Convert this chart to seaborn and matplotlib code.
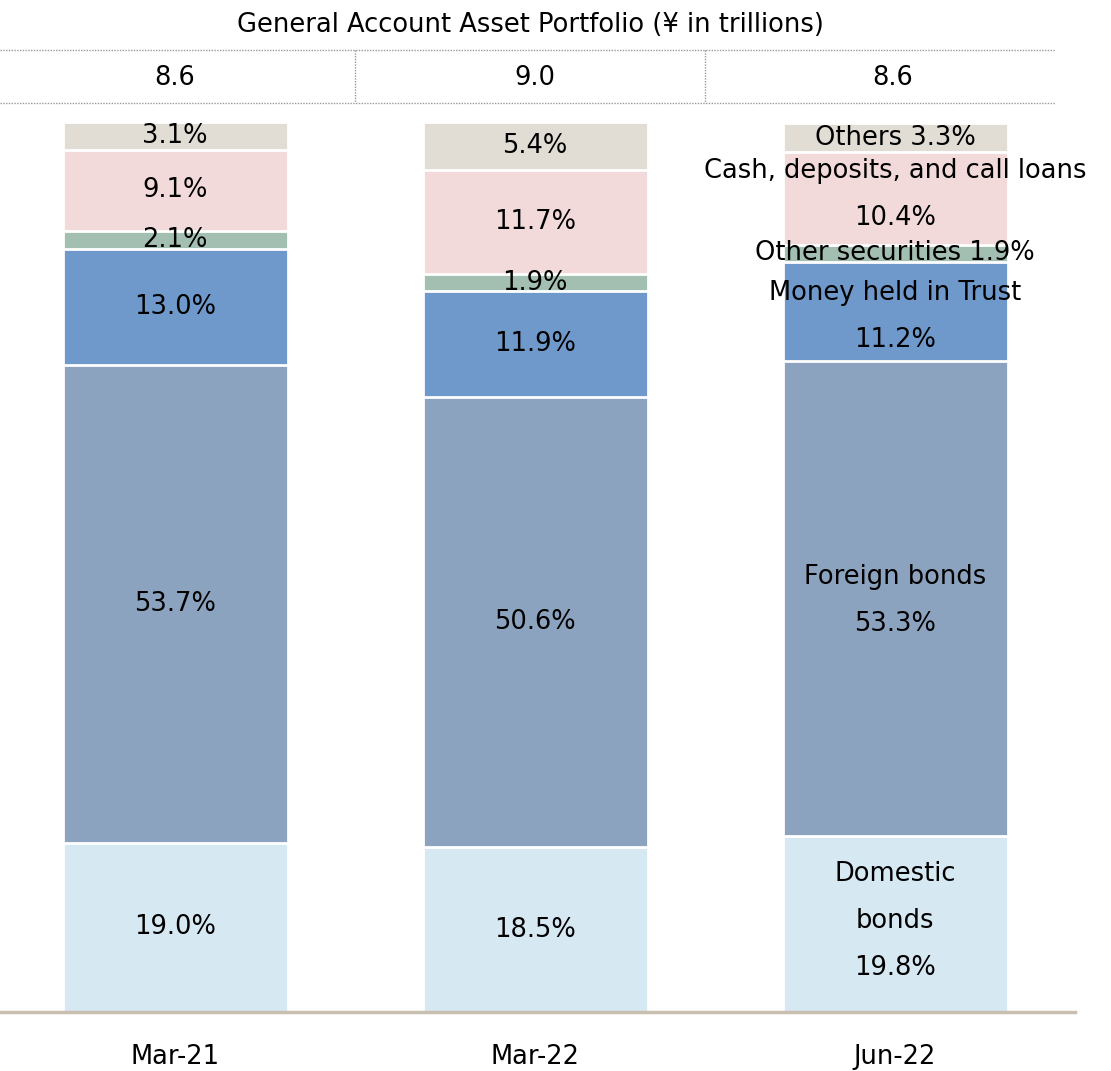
import numpy as np
import matplotlib
matplotlib.use("Agg")
import matplotlib.pyplot as plt
import seaborn as sns

periods = ["Mar-21", "Mar-22", "Jun-22"]
totals = ["8.6", "9.0", "8.6"]
assets = ["Domestic bonds", "Foreign bonds", "Money held in Trust",
          "Other securities", "Cash, deposits, and call loans", "Others"]
domestic = [19.0, 18.5, 19.8]
foreign = [53.7, 50.6, 53.3]
trust = [13.0, 11.9, 11.2]
other_sec = [2.1, 1.9, 1.9]
cash = [9.1, 11.7, 10.4]
others = [3.1, 5.4, 3.3]
colors = ["#D6E8F2", "#8BA3BF", "#6E99CA", "#A3BFB2", "#F2DADA", "#E1DDD5"]

sns.set_style("white")
plt.rcParams['font.family'] = ['DejaVu Sans']
plt.rcParams['text.color'] = 'black'
plt.rcParams['xtick.color'] = 'black'
fs = 18.5

series = [domestic, foreign, trust, other_sec, cash, others]
cum = np.cumsum(np.array(series), axis=0)

fig = plt.figure(figsize=(11.11, 10.71), dpi=100)
ax = fig.add_axes([0, 0.0551, 0.9676, 0.831])

# stack by overplotting cumulative totals, top layer first
for i in range(len(series) - 1, -1, -1):
    sns.barplot(x=periods, y=cum[i], color=colors[i], width=0.625,
                edgecolor="white", linewidth=2, saturation=1, ax=ax)

ax.set_xlim(-175 / 360, (1075 - 175) / 360)
ax.set_ylim(0, 100)
for s in ["top", "right", "left"]:
    ax.spines[s].set_visible(False)
ax.spines["bottom"].set_color("#C8BFB0")
ax.spines["bottom"].set_linewidth(2.5)
ax.set_yticks([])
ax.set_ylabel("")
ax.tick_params(axis="x", length=0, pad=23, labelsize=fs, labelcolor="black")

# percentage labels
for j in range(2):
    for i in range(len(series)):
        mid = cum[i][j] - series[i][j] / 2
        ax.text(j, mid, f"{series[i][j]:.1f}%", ha="center", va="center", fontsize=fs)

j = 2
jl = [
    ("Domestic\nbonds\n" + f"{domestic[j]:.1f}%", 0, 0.3),
    ("Foreign bonds\n" + f"{foreign[j]:.1f}%", 1, -0.2),
    ("Money held in Trust\n" + f"{trust[j]:.1f}%", 2, -0.5),
    (f"Other securities {other_sec[j]:.1f}%", 3, 0),
    ("Cash, deposits, and call loans\n" + f"{cash[j]:.1f}%", 4, 0.5),
    (f"Others {others[j]:.1f}%", 5, 0),
]
for txt, i, off in jl:
    mid = cum[i][j] - series[i][j] / 2 + off
    ax.text(j, mid, txt, ha="center", va="center", fontsize=fs, linespacing=2.05)

# header table
W, H = 1111, 1071
fig.text(530 / W, 1 - 25 / H, "General Account Asset Portfolio (\u00a5 in trillions)",
         ha="center", va="center", fontsize=fs)
for yy in [50, 103]:
    fig.add_artist(plt.Line2D([0, 1055 / W], [1 - yy / H, 1 - yy / H], color="#999999",
                              linestyle=(0, (1, 1)), linewidth=1))
for xx in [355, 705]:
    fig.add_artist(plt.Line2D([xx / W, xx / W], [1 - 50 / H, 1 - 103 / H], color="#999999",
                              linestyle=(0, (1, 1)), linewidth=1))
for xc, t in zip([175, 535, 893], totals):
    fig.text(xc / W, 1 - 78 / H, t, ha="center", va="center", fontsize=fs)

fig.savefig("out.png", dpi=100)
